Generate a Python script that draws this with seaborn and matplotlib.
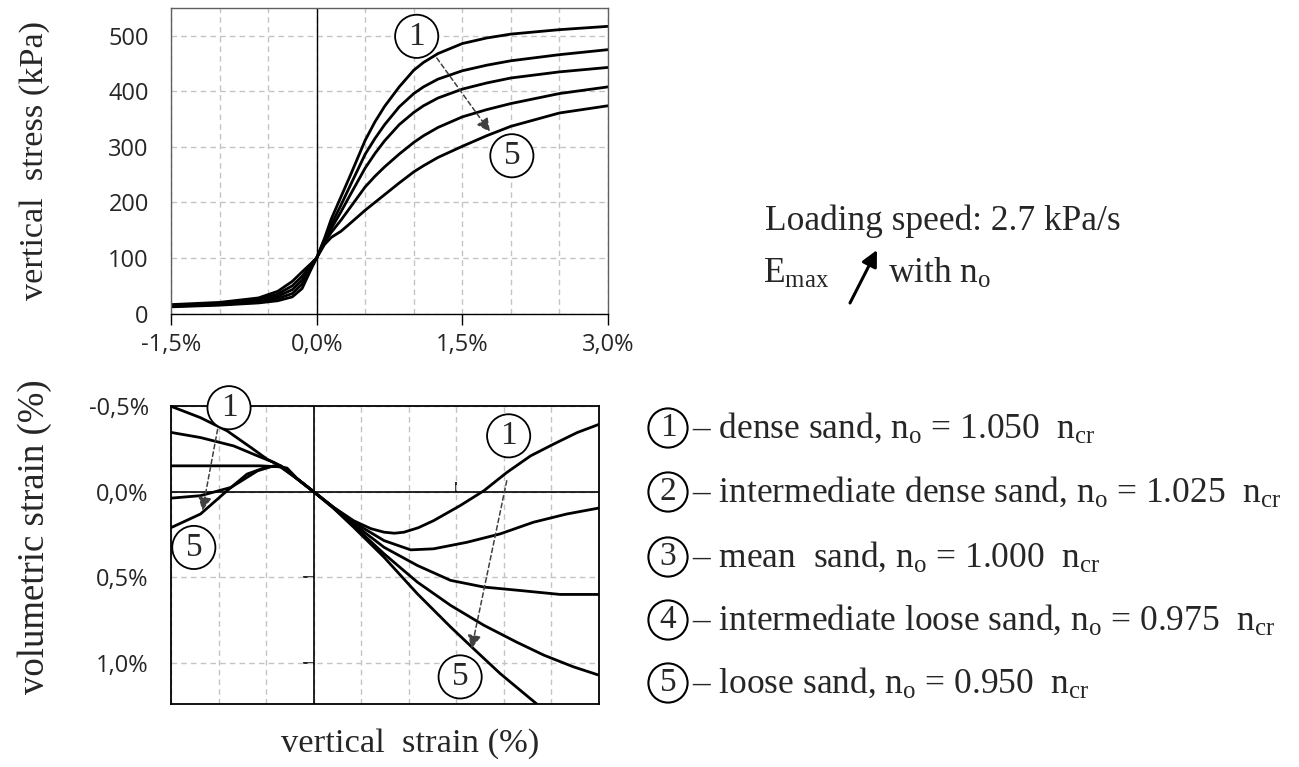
import numpy as np
import pandas as pd
import matplotlib
matplotlib.use("Agg")
import matplotlib.pyplot as plt
import matplotlib.patches as mpatches
import seaborn as sns

# ---------------- data ----------------
curve_ids = ["1", "2", "3", "4", "5"]

strain_top = [-1.5, -1.0, -0.6, -0.4, -0.25, -0.15, -0.07, 0.0, 0.08, 0.15, 0.25, 0.35, 0.5, 0.6,
              0.7, 0.85, 1.0, 1.1, 1.25, 1.5, 1.75, 2.0, 2.5, 3.0]
stress_1 = [12, 15, 19, 23, 30, 45, 75, 100, 135, 170, 210, 250, 312, 345,
            373, 408, 438, 452, 468, 486, 496, 503, 511, 517]
stress_2 = [13, 16, 21, 27, 36, 53, 80, 100, 132, 160, 195, 232, 287, 315,
            340, 372, 396, 408, 422, 437, 447, 455, 466, 475]
stress_3 = [14, 17, 23, 31, 43, 60, 83, 100, 130, 153, 183, 215, 262, 288,
            311, 340, 362, 374, 388, 404, 415, 424, 435, 443]
stress_4 = [15, 18, 25, 35, 50, 67, 85, 100, 128, 146, 168, 192, 228, 247,
            264, 287, 308, 320, 335, 354, 367, 378, 396, 408]
stress_5 = [16, 20, 28, 40, 58, 75, 88, 100, 124, 137, 148, 163, 186, 200,
            214, 235, 255, 266, 281, 301, 320, 337, 361, 374]

vol_x_1 = [-1.49, -1.19, -0.91, -0.66, -0.49, -0.35, -0.17, 0.0, 0.21, 0.42, 0.6, 0.74, 0.85, 0.95, 1.1, 1.26, 1.54, 1.79, 2.03, 2.28, 2.52, 2.77, 3.0]
vol_1 = [-0.496, -0.432, -0.355, -0.258, -0.19, -0.151, -0.074, 0.0, 0.091, 0.169, 0.215, 0.236, 0.242, 0.236, 0.21, 0.169, 0.081, -0.006, -0.112, -0.209, -0.277, -0.345, -0.393]
vol_x_2 = [-1.49, -1.19, -0.84, -0.59, -0.42, -0.28, -0.17, 0.0, 0.21, 0.42, 0.74, 1.02, 1.26, 1.61, 1.96, 2.31, 2.66, 3.0]
vol_2 = [-0.345, -0.316, -0.267, -0.209, -0.171, -0.132, -0.074, 0.0, 0.092, 0.178, 0.285, 0.339, 0.333, 0.295, 0.246, 0.178, 0.130, 0.095]
vol_x_3 = [-1.49, -0.56, -0.35, -0.17, 0.0, 0.21, 0.42, 0.74, 1.09, 1.44, 1.79, 2.17, 2.59, 3.0]
vol_3 = [-0.151, -0.151, -0.145, -0.074, 0.0, 0.093, 0.188, 0.324, 0.430, 0.517, 0.556, 0.576, 0.599, 0.599]
vol_x_4 = [-1.49, -1.19, -0.87, -0.59, -0.42, -0.28, -0.17, 0.0, 0.21, 0.42, 0.74, 1.09, 1.44, 1.79, 2.13, 2.42, 2.73, 3.0]
vol_4 = [0.037, 0.023, -0.025, -0.122, -0.151, -0.138, -0.074, 0.0, 0.095, 0.198, 0.362, 0.527, 0.663, 0.779, 0.876, 0.953, 1.021, 1.070]
vol_x_5 = [-1.49, -1.19, -0.91, -0.70, -0.49, -0.35, -0.17, 0.0, 0.21, 0.42, 0.74, 1.09, 1.44, 1.68, 1.96, 2.35]
vol_5 = [0.207, 0.130, -0.006, -0.103, -0.145, -0.151, -0.074, 0.0, 0.097, 0.207, 0.382, 0.595, 0.789, 0.915, 1.06, 1.24]

top_xticks = [-1.5, 0.0, 1.5, 3.0]
top_xtick_labels = ["-1,5%", "0,0%", "1,5%", "3,0%"]
top_yticks = [0, 100, 200, 300, 400, 500]
bot_yticks = [-0.5, 0.0, 0.5, 1.0]
bot_ytick_labels = ["-0,5%", "0,0%", "0,5%", "1,0%"]

legend_labels = [
    r"– dense sand, n$_\mathregular{o}$ = 1.050  n$_\mathregular{cr}$",
    r"– intermediate dense sand, n$_\mathregular{o}$ = 1.025  n$_\mathregular{cr}$",
    r"– mean  sand, n$_\mathregular{o}$ = 1.000  n$_\mathregular{cr}$",
    r"– intermediate loose sand, n$_\mathregular{o}$ = 0.975  n$_\mathregular{cr}$",
    r"– loose sand, n$_\mathregular{o}$ = 0.950  n$_\mathregular{cr}$",
]

top_df = pd.DataFrame({
    "strain": strain_top * 5,
    "stress": stress_1 + stress_2 + stress_3 + stress_4 + stress_5,
    "curve": sum([[c] * len(strain_top) for c in curve_ids], []),
})
vol_xs = [vol_x_1, vol_x_2, vol_x_3, vol_x_4, vol_x_5]
vol_ys = [vol_1, vol_2, vol_3, vol_4, vol_5]
bot_df = pd.DataFrame({
    "strain": sum(vol_xs, []),
    "vol": sum(vol_ys, []),
    "curve": sum([[c] * len(x) for c, x in zip(curve_ids, vol_xs)], []),
})

# ---------------- style ----------------
sns.set_style("white")
plt.rcParams["font.family"] = ["Open Sans", "DejaVu Sans"]
plt.rcParams["mathtext.fontset"] = "custom"
plt.rcParams["mathtext.rm"] = "Liberation Serif"
plt.rcParams["mathtext.it"] = "Liberation Serif:italic"
SERIF = ["Liberation Serif", "DejaVu Serif"]
TICK_FS = 17
TXT_FS = 25.5
grid_kw = dict(color="#c4c4c4", linestyle=(0, (4, 3)), linewidth=1.0)

fig = plt.figure(figsize=(12.99, 7.67), dpi=100)
W, H = 1299, 767
ax1 = fig.add_axes([171 / W, 1 - 313.5 / H, (608 - 171) / W, (313.5 - 8) / H])
ax2 = fig.add_axes([171 / W, 1 - 704 / H, (599 - 171) / W, (704 - 406) / H])

# ---------------- top plot ----------------
sns.lineplot(data=top_df, x="strain", y="stress", units="curve", estimator=None,
             color="black", linewidth=2.0, ax=ax1, legend=False)
ax1.set_xlim(-1.5, 3.0)
ax1.set_ylim(0, 550)
ax1.set_xticks(top_xticks)
ax1.set_xticklabels(top_xtick_labels, fontsize=TICK_FS)
ax1.set_xticks(np.arange(-1.5, 3.01, 0.5), minor=True)
ax1.xaxis.remove_overlapping_locs = False
ax1.set_yticks(top_yticks)
ax1.set_yticklabels([str(v) for v in top_yticks], fontsize=TICK_FS)
ax1.tick_params(axis="x", which="major", direction="out", length=8, width=1, color="black", pad=6, bottom=True)
ax1.tick_params(axis="x", which="minor", length=0)
ax1.tick_params(axis="y", length=0, pad=16)
ax1.grid(False)
ax1.grid(True, which="minor", axis="x", **grid_kw)
ax1.grid(True, which="major", axis="y", **grid_kw)
ax1.axvline(0, color="black", linewidth=1.0, zorder=1.5)
for s in ax1.spines.values():
    s.set_color("#606060")
    s.set_linewidth(1.0)
ax1.spines["bottom"].set_color("black")
ax1.set_xlabel("")
ax1.set_ylabel("vertical  stress (kPa)", family=SERIF, fontsize=24.7)

circ = dict(boxstyle="circle,pad=0.19", fc="white", ec="black", lw=1.3)
circ_leg = dict(boxstyle="circle,pad=0.13", fc="white", ec="black", lw=1.5)
ax1.text(1.03, 499, "1", family=SERIF, fontsize=24, ha="center", va="center", bbox=circ, zorder=5)
ax1.text(2.01, 284, "5", family=SERIF, fontsize=24, ha="center", va="center", bbox=circ, zorder=5)
arrow_kw = dict(arrowstyle="-|>", linestyle=(0, (3, 2)), color="#404040", lw=1.1,
                mutation_scale=20, shrinkA=0, shrinkB=0)
ax1.annotate("", xy=(1.785, 327), xytext=(1.237, 460), arrowprops=arrow_kw, zorder=4)

# ---------------- bottom plot ----------------
sns.lineplot(data=bot_df, x="strain", y="vol", units="curve", estimator=None, sort=False,
             color="black", linewidth=2.0, ax=ax2, legend=False)
ax2.set_xlim(-1.5, 3.0)
ax2.set_ylim(1.238, -0.5)
ax2.set_xticks(np.arange(-1.5, 3.01, 0.5))
ax2.set_xticklabels([])
ax2.set_yticks(bot_yticks)
ax2.set_yticklabels(bot_ytick_labels, fontsize=TICK_FS)
ax2.tick_params(axis="both", length=0)
ax2.tick_params(axis="y", pad=16)
ax2.grid(False)
ax2.grid(True, axis="both", **grid_kw)
for s in ax2.spines.values():
    s.set_color("black")
    s.set_linewidth(1.3)
ax2.axvline(0, color="black", linewidth=1.2, zorder=1.5)
ax2.axhline(0, color="black", linewidth=1.2, zorder=1.5)
ax2.set_xlabel("vertical  strain (%)", family=SERIF, fontsize=24.8)
ax2.set_ylabel("volumetric strain (%)", family=SERIF, fontsize=26.5)

# small ticks on the zero axes
xfrac0 = 1.5 / 4.5
yfrac0 = 1.238 / 1.738
sec_y = ax2.secondary_yaxis(xfrac0)
sec_y.set_yticks([0.5, 1.0])
sec_y.set_yticklabels([])
sec_y.tick_params(length=8, width=1.2, direction="out", color="black")
sec_y.spines[:].set_visible(False)
sec_x = ax2.secondary_xaxis(yfrac0)
sec_x.set_xticks([1.5])
sec_x.set_xticklabels([])
sec_x.tick_params(length=7, width=1.2, direction="out", color="black")
sec_x.spines[:].set_visible(False)

ax2.text(-0.89, -0.49, "1", family=SERIF, fontsize=24, ha="center", va="center", bbox=circ, zorder=5, clip_on=False)
ax2.text(-1.26, 0.325, "5", family=SERIF, fontsize=24, ha="center", va="center", bbox=circ, zorder=5)
ax2.text(2.05, -0.326, "1", family=SERIF, fontsize=24, ha="center", va="center", bbox=circ, zorder=5)
ax2.text(1.54, 1.08, "5", family=SERIF, fontsize=24, ha="center", va="center", bbox=circ, zorder=5)
ax2.annotate("", xy=(-1.17, 0.11), xytext=(-1.01, -0.364), arrowprops=arrow_kw, zorder=4)
ax2.annotate("", xy=(1.66, 0.915), xytext=(2.03, -0.064), arrowprops=arrow_kw, zorder=4)

# label positions (figure pixels)
def fx(px):
    return px / W

def fy(py):
    return 1 - py / H

ax1.yaxis.set_label_coords(fx(35), fy(160), transform=fig.transFigure)
ax2.yaxis.set_label_coords(fx(35), fy(537), transform=fig.transFigure)
ax2.xaxis.set_label_coords(fx(410), fy(744), transform=fig.transFigure)
ax1.yaxis.label.set_va("center")
ax2.yaxis.label.set_va("center")
ax2.xaxis.label.set_va("center")

# ---------------- right-hand text ----------------
fig.text(fx(765), fy(230), "Loading speed: 2.7 kPa/s", family=SERIF, fontsize=TXT_FS, va="baseline", ha="left")
fig.text(fx(763), fy(283), r"E$_\mathregular{max}$", family=SERIF, fontsize=TXT_FS, va="baseline", ha="left")
fig.text(fx(888), fy(283), r"with n$_\mathregular{o}$", family=SERIF, fontsize=TXT_FS, va="baseline", ha="left")
fig.patches.append(mpatches.FancyArrowPatch(
    (fx(850), fy(303)), (fx(877), fy(250)), transform=fig.transFigure,
    arrowstyle="-|>", mutation_scale=24, color="black", lw=2.2, shrinkA=0, shrinkB=0))

leg_base = [438, 502, 567, 630, 693]
for cid, lab, yb in zip(curve_ids, legend_labels, leg_base):
    fig.text(fx(668), fy(yb - 10), cid, family=SERIF, fontsize=24, ha="center", va="center", bbox=circ_leg)
    fig.text(fx(692), fy(yb), lab, family=SERIF, fontsize=TXT_FS, ha="left", va="baseline")

fig.savefig("out.png", dpi=100)
